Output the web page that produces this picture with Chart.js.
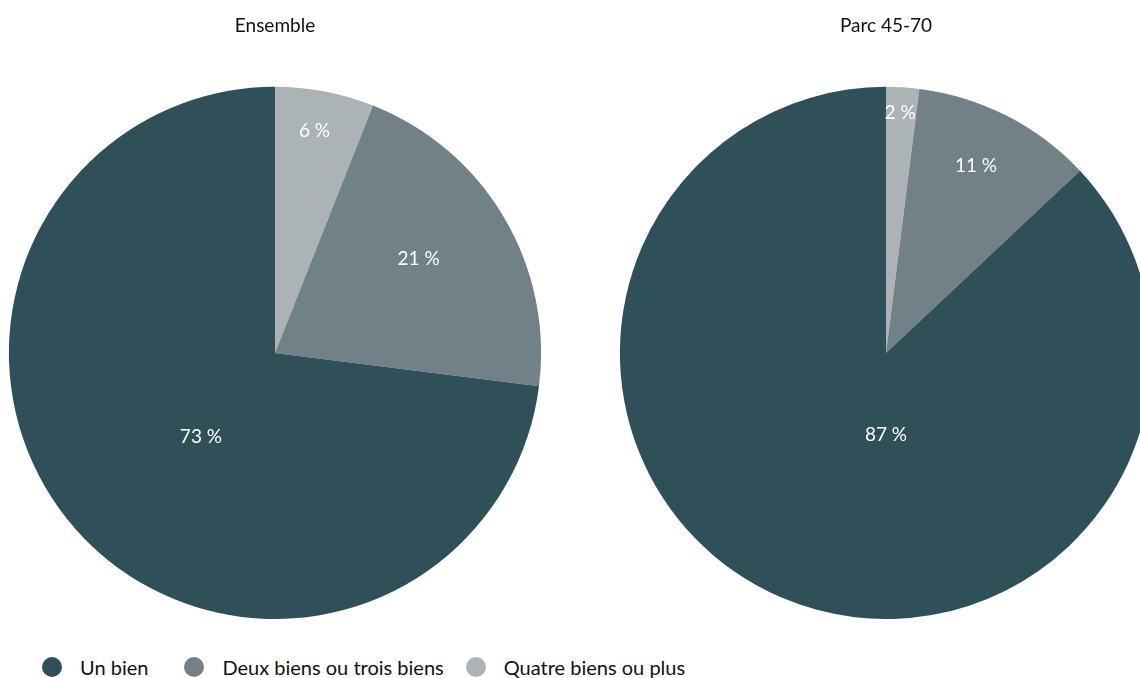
<!DOCTYPE html>
<html lang="fr">
<head>
<meta charset="utf-8">
<script src="https://cdn.jsdelivr.net/npm/chart.js@4.4.0/dist/chart.umd.min.js"></script>
<style>
  html, body { margin: 0; padding: 0; background: #fff; overflow: hidden; }
  body { width: 1140px; height: 678px; position: relative; font-family: Lato, "Open Sans", sans-serif; }
  .pie { position: absolute; top: 0; width: 550px; height: 619px; }
  .legend { position: absolute; left: 42px; top: 655px; display: flex; align-items: center; font-size: 20px; color: #111; }
  .legend .item { display: flex; align-items: center; margin-right: 36px; }
  .legend .item:nth-child(2) { margin-right: 22px; }
  .legend .dot { width: 20px; height: 20px; border-radius: 50%; margin-right: 18px; }
</style>
</head>
<body>
  <div class="pie" style="left:0"><canvas id="pieEnsemble"></canvas></div>
  <div class="pie" style="left:611px"><canvas id="pieParc"></canvas></div>
  <div class="legend" id="legend"></div>

<script>
// data, in legend order
const categories = ['Un bien', 'Deux biens ou trois biens', 'Quatre biens ou plus'];
const ensembleValues = [73, 21, 6];
const parcValues = [87, 11, 2];
const chartTitles = ['Ensemble', 'Parc 45-70'];

const colors = ['#2f5058', '#728087', '#abb3b7'];

// slice labels: small slices near the rim, big ones pulled toward the bottom
const sliceLabels = {
  id: 'sliceLabels',
  afterDatasetsDraw(chart) {
    const { ctx } = chart;
    const meta = chart.getDatasetMeta(0);
    const values = chart.data.datasets[0].data;
    const total = values.reduce((a, b) => a + b, 0);
    ctx.save();
    ctx.fillStyle = '#fff';
    ctx.font = '19px Lato, "Open Sans", sans-serif';
    ctx.textAlign = 'center';
    ctx.textBaseline = 'middle';
    meta.data.forEach((arc, i) => {
      const p = values[i] / total;
      let mid = (arc.startAngle + arc.endAngle) / 2;
      let r;
      if (p > 0.5) {
        const k = Math.min(1, Math.pow((p - 0.5) / 0.37, 4));
        mid = mid - (mid - Math.PI / 2) * k;
        r = arc.outerRadius * (1.02 - 0.82 * p);
      } else {
        mid = mid - p * 12 * Math.PI / 180;
        r = arc.outerRadius * (0.93 - 1.36 * p);
      }
      ctx.fillText(values[i] + ' %', arc.x + Math.cos(mid) * r, arc.y + Math.sin(mid) * r);
    });
    ctx.restore();
  }
};

function makePie(id, title, values) {
  new Chart(document.getElementById(id), {
    type: 'pie',
    data: {
      labels: categories.slice().reverse(),
      datasets: [{
        data: values.slice().reverse(),
        backgroundColor: colors.slice().reverse(),
        borderWidth: 0
      }]
    },
    options: {
      responsive: true,
      maintainAspectRatio: false,
      animation: false,
      layout: { padding: 0 },
      plugins: {
        legend: { display: false },
        tooltip: { enabled: false },
        title: {
          display: true,
          text: title,
          color: '#111',
          font: { family: 'Lato, "Open Sans", sans-serif', size: 19, weight: 'normal' },
          padding: { top: 14, bottom: 50 }
        }
      }
    },
    plugins: [sliceLabels]
  });
}

makePie('pieEnsemble', chartTitles[0], ensembleValues);
makePie('pieParc', chartTitles[1], parcValues);

document.getElementById('legend').innerHTML = categories.map((c, i) => `
  <div class="item"><span class="dot" style="background:${colors[i]}"></span>${c}</div>`).join('');
</script>
</body>
</html>
